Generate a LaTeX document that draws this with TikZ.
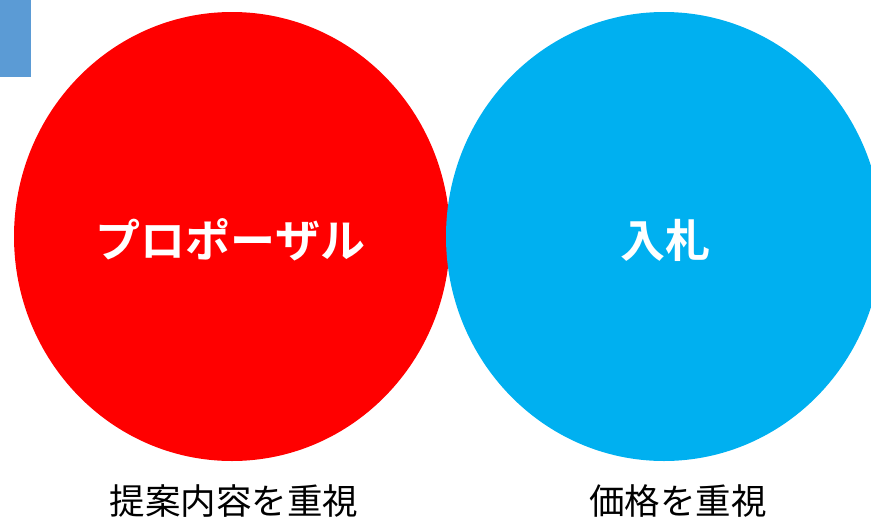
\documentclass[tikz,border=0pt]{standalone}
\usepackage{fontspec}
\newfontfamily\cjk{Noto Sans CJK JP}
\newfontfamily\cjkb{Noto Sans CJK JP Bold}
\definecolor{redc}{HTML}{FF0000}
\definecolor{bluec}{HTML}{00B0F0}
\definecolor{tabc}{HTML}{5B9BD5}
\begin{document}
\begin{tikzpicture}[x=1pt,y=-1pt,
  blob/.style={fill=#1,draw=none},
  title/.style={text=white,font=\cjkb\fontsize{45}{48}\selectfont,inner sep=0pt,anchor=center},
  caption/.style={text=black,font=\cjk\fontsize{35.5}{40}\selectfont,inner sep=0pt,anchor=center}]
\useasboundingbox (0,0) rectangle (871,520);
\begin{scope}
\clip (0,0) rectangle (871,520);
\fill[tabc] (0,0) rectangle (31,77);
\path[blob=redc] (232,236.5) ellipse [x radius=218, y radius=224.5];
\path[blob=bluec] (664,236.5) ellipse [x radius=218, y radius=224.5];
\end{scope}
\node[title] (p) at (230.5,240) {プロポーザル};
\node[title] (n) at (665,240) {入札};
\node[caption] (pc) at (234,501) {提案内容を重視};
\node[caption] (nc) at (678,501) {価格を重視};
\end{tikzpicture}
\end{document}
